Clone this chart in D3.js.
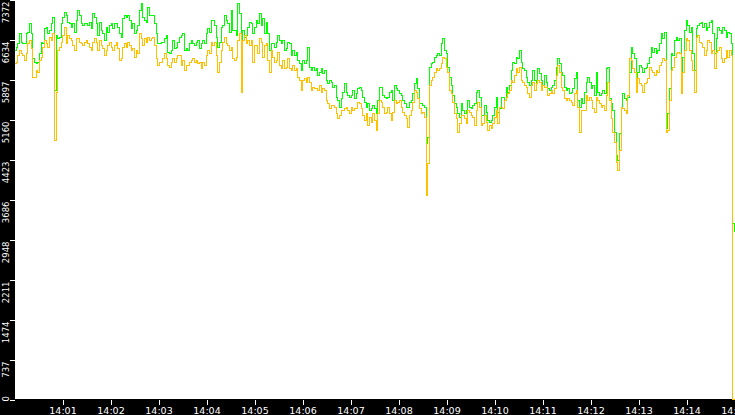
<!DOCTYPE html>
<html>
<head>
<meta charset="utf-8">
<script src="https://cdn.jsdelivr.net/npm/d3@7"></script>
<style>
html, body { margin: 0; padding: 0; background: #000; overflow: hidden; }
svg { display: block; }
</style>
</head>
<body>
<div id="chartContainer"></div>
<script>
// 433 samples from 14:00:00 to 14:15:00
const startTime = '14:00:00';
const sampleStepMs = 900000 / 432;

const greenValues = [
    6432, 6494, 6555, 6740, 6586, 6555, 6555, 6740, 6770, 6924, 6740, 6279, 6217, 6187, 6217, 6371, 6586, 6555, 6832, 6862,
    6740, 6801, 6924, 7047, 5695, 6709, 6648, 6678, 6924, 7047, 7139, 7077, 6955, 6924, 6862, 6924, 6770, 6985, 7170, 7077,
    6924, 6893, 6924, 6924, 6893, 6955, 6832, 7108, 7047, 6924, 6709, 6955, 6801, 6740, 6617, 6862, 6770, 6893, 6924, 6832,
    6924, 6924, 6862, 6740, 6678, 7016, 7077, 7047, 7077, 6985, 6832, 6924,
    6740, 6801, 6893, 7170, 7293, 7047, 6985, 6955, 7231, 7077, 7077, 7077, 6924, 6740, 6555, 6555, 6586, 6586, 6648, 6709,
    6402, 6371, 6432, 6617, 6463, 6494, 6586, 6678, 6709, 6740, 6432, 6463, 6432, 6555, 6617, 6555, 6525, 6586, 6617, 6463,
    6555, 6617, 6555, 6740, 6832, 6770, 6985, 6985, 6893, 6678, 6494, 6586, 6862, 6893, 7077, 6985, 6924, 6770, 7170, 6801,
    6801, 6709, 7293, 7108, 6217, 6801, 6678, 6709, 6862, 6955, 6924, 6740,
    6862, 6985, 6924, 7108, 6893, 7016, 6740, 6955, 6740, 6432, 6555, 6555, 6494, 6586, 6709, 6617, 6555, 6617, 6432, 6463,
    6586, 6555, 6340, 6432, 6340, 6402, 6248, 6187, 6064, 6248, 6187, 6248, 6494, 6125, 6064, 6125, 6064, 6094, 5972, 6033,
    6094, 6002, 6064, 5880, 5818, 5880, 5849, 5757, 5787, 5572, 5511, 5388, 5542, 5665, 5818, 5665, 5603, 5572, 5603, 5695,
    5542, 5634, 5726, 5757, 5695, 5572, 5480, 5388, 5450, 5327, 5357, 5419,
    5357, 5265, 5511, 5757, 5757, 5603, 5572, 5542, 5572, 5665, 5695, 5511, 5787, 5726, 5695, 5634, 5603, 5511, 5450, 5388,
    5388, 5480, 5511, 5634, 5818, 5910, 5726, 5450, 5450, 5419, 5388, 4713, 4835, 6125, 6187, 6217, 6310, 6340, 6371, 6340,
    6555, 6648, 6432, 6371, 6125, 5941, 5787, 5603, 5450, 5388, 5265, 5204, 5450, 5327, 5265, 5327, 5511, 5388, 5357, 5419,
    5450, 5665, 5695, 5572, 5235, 5235, 5419, 5296, 5142, 5112, 5142, 5235,
    5388, 5572, 5296, 5357, 5572, 5572, 5511, 5757, 5665, 5787, 6064, 6217, 6187, 6310, 6279, 6432, 6217, 6094, 6064, 5941,
    5849, 5787, 5880, 6064, 5880, 5849, 6094, 6002, 5880, 5787, 5972, 5849, 5726, 5695, 5757, 5787, 5880, 6125, 6279, 6187,
    6033, 5972, 5757, 5695, 5726, 5634, 5665, 5726, 5910, 6033, 5511, 5388, 5542, 5450, 5665, 5849, 5941, 5849, 5726, 5787,
    5603, 6033, 5665, 5603, 5634, 5695, 5634, 6094, 6125, 5542, 5450, 5327,
    4927, 4498, 4405, 4897, 5357, 5634, 5542, 5511, 5572, 6033, 6494, 6371, 6279, 5910, 6033, 6156, 6125, 6033, 6094, 6125,
    6187, 6310, 6494, 6402, 6463, 6371, 6432, 6555, 6740, 6648, 6770, 4989, 5265, 5726, 6371, 6340, 6617, 6678, 6617, 6648,
    6002, 6310, 6801, 6985, 6893, 6770, 6862, 6371, 6064, 6832, 6893, 6924, 6955, 6862, 6924, 6801, 6862, 6955, 6985, 6740,
    6371, 6648, 6862, 6801, 6740, 6862, 6801, 6678, 6770, 6740, 6555, 3250,
    3080
];

const orangeValues = [
    6187, 6217, 6340, 6432, 6371, 6340, 6248, 6371, 6555, 6617, 6463, 5941, 5941, 6064, 6033, 6248, 6310, 6494, 6617, 6555,
    6494, 6678, 6617, 6740, 4774, 5665, 6432, 6494, 6586, 6709, 6862, 6555, 6709, 6648, 6617, 6525, 6432, 6648, 6648, 6586,
    6555, 6525, 6586, 6617, 6555, 6494, 6432, 6586, 6648, 6586, 6432, 6617, 6525, 6463, 6340, 6432, 6525, 6586, 6494, 6432,
    6525, 6586, 6463, 6248, 6279, 6494, 6555, 6494, 6586, 6525, 6432, 6463,
    6310, 6432, 6371, 6740, 6648, 6525, 6648, 6586, 6678, 6617, 6648, 6678, 6525, 6279, 6156, 6217, 6217, 6279, 6371, 6279,
    6156, 6125, 6217, 6279, 6217, 6279, 6340, 6340, 6156, 6248, 6064, 6156, 6156, 6217, 6248, 6279, 6217, 6248, 6187, 6217,
    6094, 6217, 6156, 6340, 6432, 6371, 6586, 6525, 6586, 6340, 6033, 6217, 6432, 6586, 6678, 6555, 6525, 6432, 6494, 6279,
    6248, 6310, 6617, 6740, 5665, 6617, 6709, 6555, 6617, 6525, 6617, 6217,
    6525, 6525, 6371, 6648, 6586, 6310, 6525, 6555, 6248, 6033, 6432, 6310, 6217, 6248, 6402, 6156, 6094, 6248, 6094, 6125,
    6279, 6094, 6064, 6156, 6064, 6094, 5941, 5880, 5695, 5880, 5910, 5849, 5941, 5849, 5695, 5757, 5726, 5726, 5695, 5787,
    5665, 5726, 5695, 5511, 5450, 5357, 5419, 5419, 5388, 5265, 5173, 5235, 5327, 5327, 5357, 5388, 5327, 5265, 5388, 5327,
    5357, 5357, 5480, 5450, 5357, 5235, 5142, 5265, 5050, 5204, 5112, 5265,
    5142, 4958, 5265, 5511, 5480, 5388, 5265, 5296, 5388, 5265, 5142, 5296, 5511, 5450, 5480, 5511, 5388, 5296, 5235, 5173,
    5019, 5235, 5327, 5480, 5695, 5665, 5542, 5357, 5265, 5296, 5204, 3760, 4344, 5787, 5880, 5941, 6033, 6094, 6064, 6094,
    6187, 6310, 6279, 6125, 6033, 5695, 5634, 5480, 5265, 5173, 4927, 5081, 5235, 5235, 5173, 5081, 5327, 5296, 5235, 5204,
    5050, 5327, 5480, 5388, 5050, 5081, 5235, 5112, 4958, 5050, 4989, 5081,
    5204, 5327, 5081, 5388, 5388, 5357, 5511, 5572, 5634, 5695, 5880, 5849, 5972, 6094, 6033, 6125, 5880, 5849, 5787, 5757,
    5634, 5572, 5787, 5849, 5695, 5818, 5880, 5849, 5695, 5787, 5757, 5757, 5603, 5634, 5695, 5634, 5726, 5972, 6156, 6033,
    5757, 5695, 5542, 5511, 5542, 5511, 5480, 5419, 5634, 5695, 5388, 4927, 5327, 5327, 5327, 5603, 5511, 5572, 5511, 5357,
    5296, 5572, 5511, 5450, 5388, 5419, 5327, 5603, 5849, 5511, 5173, 4927,
    4743, 4375, 4221, 4589, 5388, 5357, 5327, 5265, 5603, 6279, 6248, 6094, 6033, 5665, 5910, 5818, 5787, 5665, 5818, 5849,
    5910, 6125, 6064, 6033, 5972, 6064, 6033, 6156, 6217, 6279, 6248, 4927, 4958, 5511, 6064, 6125, 6310, 6371, 6402, 6371,
    5634, 6033, 6432, 6648, 6617, 6432, 6248, 6064, 5665, 6678, 6709, 6586, 6555, 6494, 6340, 6432, 6617, 6586, 6371, 6432,
    6094, 6402, 6432, 6494, 6279, 6217, 6279, 6432, 6310, 6432, 6340, 0,
    0
];

const yMax = 7372;
const yTickLabels = ['0', '737', '1474', '2211', '2948', '3686', '4423', '5160', '5897', '6634', '7372'];
const xTickLabels = ['14:01', '14:02', '14:03', '14:04', '14:05', '14:06', '14:07', '14:08',
    '14:09', '14:10', '14:11', '14:12', '14:13', '14:14', '14:15'];

const svgWidth = 735;
const svgHeight = 415;
const plotLeft = 15;
const plotBottom = 399;

const parseTime = d3.timeParse('%H:%M:%S');
const parseMinute = d3.timeParse('%H:%M');
const t0 = parseTime(startTime);

const toSeries = values => values.map((v, i) => ({
    time: new Date(t0.getTime() + i * sampleStepMs),
    value: v
}));
const greenSeries = toSeries(greenValues);
const orangeSeries = toSeries(orangeValues);

const svg = d3.select('#chartContainer')
    .append('svg')
    .attr('width', svgWidth)
    .attr('height', svgHeight)
    .style('background', '#000');

const xScale = d3.scaleTime()
    .domain(d3.extent(greenSeries, d => d.time))
    .range([plotLeft - 0.5, svgWidth - 0.5]);

const yScale = d3.scaleLinear()
    .domain([0, yMax])
    .range([plotBottom + 0.5, -0.5]);

svg.append('rect')
    .attr('x', plotLeft)
    .attr('y', 0)
    .attr('width', svgWidth - plotLeft)
    .attr('height', plotBottom)
    .attr('fill', '#fff');

svg.append('clipPath')
    .attr('id', 'plotClip')
    .append('rect')
    .attr('x', plotLeft)
    .attr('y', 0)
    .attr('width', svgWidth - plotLeft)
    .attr('height', plotBottom + 1);

const line = d3.line()
    .x(d => xScale(d.time))
    .y(d => yScale(d.value))
    .curve(d3.curveStepAfter);

const lines = svg.append('g').attr('clip-path', 'url(#plotClip)');

lines.append('path')
    .datum(greenSeries)
    .attr('d', line)
    .attr('fill', 'none')
    .attr('stroke', '#00ff00')
    .attr('stroke-width', 1)
    .attr('shape-rendering', 'crispEdges');

lines.append('path')
    .datum(orangeSeries)
    .attr('d', line)
    .attr('fill', 'none')
    .attr('stroke', '#ffc000')
    .attr('stroke-width', 1)
    .attr('shape-rendering', 'crispEdges');

// x axis
const xAxis = d3.axisBottom(xScale)
    .tickValues(xTickLabels.map(parseMinute))
    .tickFormat(d3.timeFormat('%H:%M'))
    .tickSize(5)
    .tickPadding(3);

const xg = svg.append('g')
    .attr('transform', `translate(0, ${plotBottom + 0.5})`)
    .call(xAxis);
xg.select('.domain').remove();
xg.selectAll('line').attr('stroke', '#fff').attr('shape-rendering', 'crispEdges');
xg.selectAll('text')
    .attr('fill', '#fff')
    .style('font-family', '"DejaVu Sans", sans-serif')
    .style('font-size', '9.5px');

// y axis, labels turned on their side
const yAxis = d3.axisLeft(yScale)
    .tickValues(yTickLabels.map(Number))
    .tickFormat((d, i) => yTickLabels[i])
    .tickSize(5);

const yg = svg.append('g')
    .attr('transform', `translate(${plotLeft}, 0)`)
    .call(yAxis);
yg.select('.domain').remove();
yg.selectAll('line').attr('stroke', '#fff').attr('shape-rendering', 'crispEdges');
yg.selectAll('text')
    .attr('x', null)
    .attr('dy', null)
    .attr('text-anchor', 'end')
    .attr('transform', d => `translate(-6.5, ${d === 0 ? -4 : 1.5}) rotate(-90)`)
    .attr('fill', '#fff')
    .style('font-family', '"DejaVu Sans", sans-serif')
    .style('font-size', '8.5px');
</script>
</body>
</html>
